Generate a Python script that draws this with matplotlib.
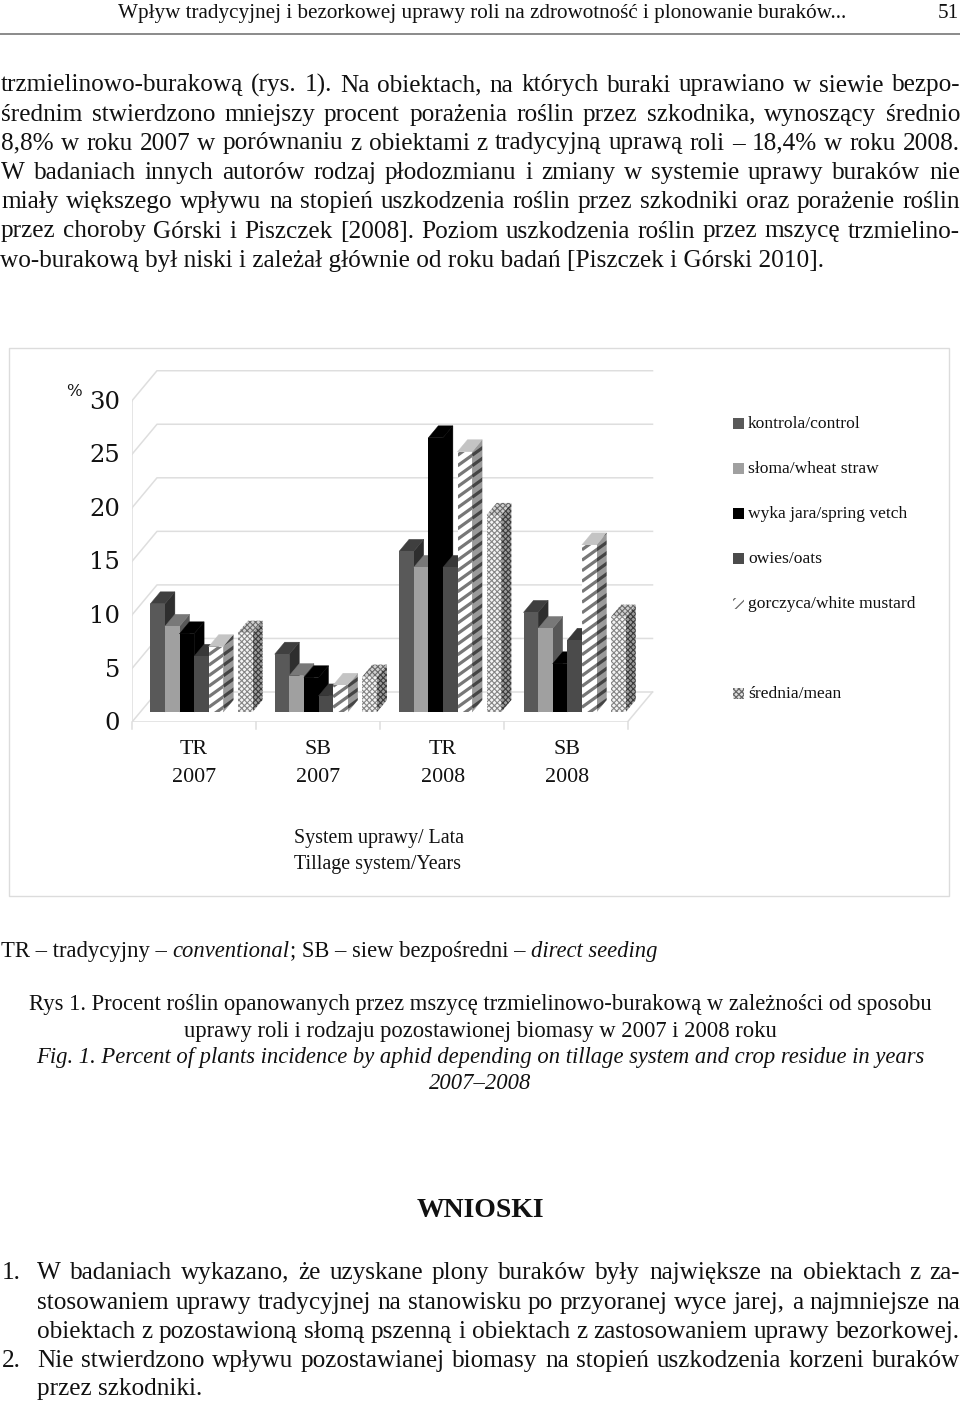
import matplotlib
matplotlib.use('Agg')
import matplotlib.pyplot as plt
from matplotlib.patches import Polygon, Rectangle

W, H = 960, 1406

# chart data
groups = [('TR', '2007'), ('SB', '2007'), ('TR', '2008'), ('SB', '2008')]
kontrola = [10.1, 5.4, 15.0, 9.3]
sloma = [8.0, 3.4, 13.5, 7.8]
wyka = [7.3, 3.2, 25.6, 4.5]
owies = [5.2, 1.5, 13.5, 6.7]
gorczyca = [6.1, 2.5, 24.3, 15.6]
srednia = [7.4, 3.3, 18.4, 8.9]
yticks = [0, 5, 10, 15, 20, 25, 30]
legend_labels = ['kontrola/control', 'słoma/wheat straw', 'wyka jara/spring vetch',
                 'owies/oats', 'gorczyca/white mustard', 'średnia/mean']
legend_y = [424, 469, 514, 559, 604, 694]

# page text
header = 'Wpływ tradycyjnej i bezorkowej uprawy roli na zdrowotność i plonowanie buraków...'
top_lines = [
    'trzmielinowo-burakową (rys. 1). Na obiektach, na których buraki uprawiano w siewie bezpo-',
    'średnim stwierdzono mniejszy procent porażenia roślin przez szkodnika, wynoszący średnio',
    '8,8% w roku 2007 w porównaniu z obiektami z tradycyjną uprawą roli – 18,4% w roku 2008.',
    'W badaniach innych autorów rodzaj płodozmianu i zmiany w systemie uprawy buraków nie',
    'miały większego wpływu na stopień uszkodzenia roślin przez szkodniki oraz porażenie roślin',
    'przez choroby Górski i Piszczek [2008]. Poziom uszkodzenia roślin przez mszycę trzmielino-',
    'wo-burakową był niski i zależał głównie od roku badań [Piszczek i Górski 2010].',
]
top_y = [91.5, 120.7, 149.5, 179, 208, 237.5, 266.7]
bottom_lines = [
    'W badaniach wykazano, że uzyskane plony buraków były największe na obiektach z za-',
    'stosowaniem uprawy tradycyjnej na stanowisku po przyoranej wyce jarej, a najmniejsze na',
    'obiektach z pozostawioną słomą pszenną i obiektach z zastosowaniem uprawy bezorkowej.',
    'Nie stwierdzono wpływu pozostawianej biomasy na stopień uszkodzenia korzeni buraków',
]
bottom_y = [1279, 1309, 1337.7, 1366.7]

plt.rcParams['font.family'] = ['Liberation Serif', 'DejaVu Serif']
fig = plt.figure(figsize=(W / 100, H / 100), dpi=100)
page = fig.add_axes([0, 0, 1, 1])
page.set_xlim(0, W)
page.set_ylim(H, 0)
page.axis('off')
renderer = fig.canvas.get_renderer()

BODY = 18.2
INK = '#111111'


def justified(line, x0, x1, y, size=BODY):
    # put the words one by one so the line fills x0..x1
    words = line.split(' ')
    items = [page.text(0, y, w, fontsize=size, va='baseline', color=INK) for w in words]
    widths = [t.get_window_extent(renderer).width for t in items]
    gap = (x1 - x0 - sum(widths)) / (len(words) - 1)
    x = x0
    for t, w in zip(items, widths):
        t.set_x(x)
        x += w + gap


def run(pieces, x, y, size):
    # upright and italic pieces one after the other on a line
    for s, st in pieces:
        t = page.text(x, y, s, fontsize=size, style=st, va='baseline', color=INK)
        x += t.get_window_extent(renderer).width


page.text(118, 18, header, fontsize=15.2, va='baseline', color=INK)
page.text(938, 18, '51', fontsize=15.2, va='baseline', color=INK)
page.plot([0, W], [33.7, 33.7], color='#777777', lw=1.2)

for i, line in enumerate(top_lines):
    if i == 6:
        page.text(0, top_y[i], line, fontsize=BODY, va='baseline', color=INK)
    else:
        justified(line, 1, 960, top_y[i])

# frame around the chart
page.add_patch(Rectangle((9, 348), 940, 548, fill=False, ec='#dcdcdc', lw=1))

# chart axes: x in bar widths, y in percent
PX_X = 14.6
PX_Y = 10.71
left, right, bottom, top = 132, 654, 722, 370
ax = fig.add_axes([left / W, 1 - bottom / H, (right - left) / W, (bottom - top) / H])
ax.set_xlim((left - 150.3) / PX_X, (right - 150.3) / PX_X)
ax.set_ylim(0, (bottom - top) / PX_Y)
ax.axis('off')
ax.patch.set_alpha(0)

GRID = '#dedede'
wall_dx = 25 / PX_X
wall_dy = 30 / PX_Y
front_end = (627.5 - 150.3) / PX_X
x_start = ax.get_xlim()[0]
for v in yticks:
    ax.plot([x_start, x_start + wall_dx, front_end + wall_dx], [v, v + wall_dy, v + wall_dy],
            color=GRID, lw=1.1, zorder=1)
    ax.plot([x_start - 4 / PX_X, x_start], [v, v], color=GRID, lw=1.1, zorder=1)
    ax.text(x_start - 12 / PX_X, v - 0.15, str(v), family='DejaVu Serif', fontsize=17.5,
            ha='right', va='center', color=INK)
ax.plot([x_start, x_start], [0, 30], color=GRID, lw=1.1, zorder=1)
ax.plot([x_start, front_end, front_end + wall_dx], [0, 0, wall_dy], color=GRID, lw=1.1, zorder=1)
for g in range(len(groups) + 1):
    tx = x_start + g * (front_end - x_start) / len(groups)
    ax.plot([tx, tx], [0, -7 / PX_Y], color=GRID, lw=1.1, clip_on=False)

depth_x = 10 / PX_X
depth_y = 12 / PX_Y
base = 10 / PX_Y
group_step = 124.4 / PX_X
STRIPE_STEP = 10.5 / PX_Y
STRIPE_SLOPE = 0.72 * PX_X / PX_Y


def stripes(clip, x, low, high, color):
    # diagonal bands over one bar face, cut to the shape of the face
    y = low - 2.5
    xs = [x, x + 1 + depth_x]
    while y < high:
        line, = ax.plot(xs, [y, y + STRIPE_SLOPE * (xs[1] - xs[0])], color=color, lw=2.3,
                        solid_capstyle='butt', zorder=clip.get_zorder() + 0.1)
        line.set_clip_path(clip)
        y += STRIPE_STEP


# values, slot, front colour, top colour, side colour
series = [
    (kontrola, 0, '#595959', '#3f3f3f', '#2e2e2e'),
    (sloma, 1, '#a0a0a0', '#787878', '#585858'),
    (wyka, 2, '#000000', '#000000', '#000000'),
    (owies, 3, '#4b4b4b', '#383838', '#2a2a2a'),
    (gorczyca, 4, '#ffffff', '#c4c4c4', '#9a9a9a'),
    (srednia, 6, '#f4f4f4', '#d0d0d0', '#9c9c9c'),
]

for g in range(len(groups)):
    x0 = g * group_step
    z = 3
    for values, slot, front, top_c, side in series:
        v = values[g]
        x = x0 + slot
        top_poly = [(x, v + base), (x + 1, v + base), (x + 1 + depth_x, v + base + depth_y),
                    (x + depth_x, v + base + depth_y)]
        side_poly = [(x + 1, base), (x + 1 + depth_x, base + depth_y),
                     (x + 1 + depth_x, v + base + depth_y), (x + 1, v + base)]
        plt.rcParams['hatch.linewidth'] = 0.8
        if values is srednia:
            side_p = Polygon(side_poly, fc=side, ec='#3a3a3a', hatch='xxxxxx', lw=0, zorder=z)
            top_p = Polygon(top_poly, fc=top_c, ec='#6a6a6a', hatch='xxxxxx', lw=0, zorder=z)
            bars = ax.bar(x, v, width=1, bottom=base, align='edge', color=front,
                          edgecolor='#858585', hatch='xxxxxx', lw=0, zorder=z + 0.5)
        else:
            side_p = Polygon(side_poly, fc=side, ec=side, lw=0.3, zorder=z)
            top_p = Polygon(top_poly, fc=top_c, ec=top_c, lw=0.3, zorder=z)
            bars = ax.bar(x, v, width=1, bottom=base, align='edge', color=front, lw=0, zorder=z + 0.5)
        ax.add_patch(side_p)
        ax.add_patch(top_p)
        if values is gorczyca:
            stripes(side_p, x + 1, base, base + depth_y + v, '#444444')
            stripes(bars[0], x, base, base + v, '#777777')
        z += 1
    xc = x0 + 3
    ax.text(xc, (bottom - 749) / PX_Y, groups[g][0], fontsize=15.8, ha='center', va='center',
            color=INK, clip_on=False)
    ax.text(xc, (bottom - 778) / PX_Y, groups[g][1], fontsize=15.8, ha='center', va='center',
            color=INK, clip_on=False)

page.text(74, 391, '%', family='DejaVu Serif', fontsize=12, ha='center', va='center', color=INK)

# legend
plt.rcParams['hatch.linewidth'] = 0.9
lg = [('#595959', None), ('#a0a0a0', None), ('#000000', None), ('#4b4b4b', None),
      ('#ffffff', '///'), ('#e0e0e0', 'xxxxxx')]
for label, y, (c, h) in zip(legend_labels, legend_y, lg):
    page.add_patch(Rectangle((733, y - 6), 11, 11, fc=c, ec='#666666' if h else 'none', hatch=h, lw=0))
    page.text(748, y, label, fontsize=12.6, va='center', color=INK)

page.text(294, 838, 'System uprawy/ Lata', fontsize=14.45, va='center', color=INK)
page.text(294, 865, 'Tillage system/Years', fontsize=14.45, va='center', color=INK)

run([('TR – tradycyjny – ', 'normal'), ('conventional', 'italic'), ('; SB – siew bezpośredni – ', 'normal'),
     ('direct seeding', 'italic')], 1, 956.7, 16.3)

cap = [('Rys 1. Procent roślin opanowanych przez mszycę trzmielinowo-burakową w zależności od sposobu', 1010, 'normal'),
       ('uprawy roli i rodzaju pozostawionej biomasy w 2007 i 2008 roku', 1036.7, 'normal'),
       ('Fig. 1. Percent of plants incidence by aphid depending on tillage system and crop residue in years', 1063, 'italic'),
       ('2007–2008', 1089, 'italic')]
for line, y, st in cap:
    page.text(480, y, line, fontsize=16.3, style=st, ha='center', va='baseline', color=INK)

page.text(480, 1217, 'WNIOSKI', fontsize=20, weight='bold', ha='center', va='baseline', color=INK)

page.text(2, 1279, '1.', fontsize=BODY, va='baseline', color=INK)
page.text(2, 1366.7, '2.', fontsize=BODY, va='baseline', color=INK)
for line, y in zip(bottom_lines, bottom_y):
    justified(line, 37, 960, y)
page.text(37, 1395, 'przez szkodniki.', fontsize=BODY, va='baseline', color=INK)

fig.savefig('out.png', dpi=100)
